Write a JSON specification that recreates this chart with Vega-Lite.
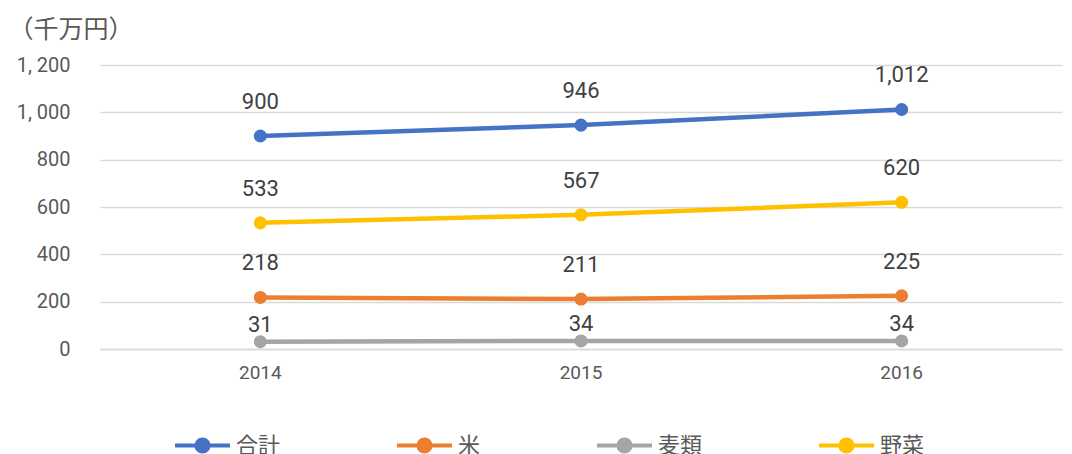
{
  "$schema": "https://vega.github.io/schema/vega-lite/v6.json",
  "width": 962,
  "height": 284,
  "autosize": "none",
  "padding": {"left": 100, "top": 65, "right": 10, "bottom": 105},
  "background": "white",
  "config": {"view": {"stroke": null}},
  "data": {
    "values": [
      {"year": "2014", "series": "合計", "value": 900},
      {"year": "2015", "series": "合計", "value": 946},
      {"year": "2016", "series": "合計", "value": 1012},
      {"year": "2014", "series": "米", "value": 218},
      {"year": "2015", "series": "米", "value": 211},
      {"year": "2016", "series": "米", "value": 225},
      {"year": "2014", "series": "麦類", "value": 31},
      {"year": "2015", "series": "麦類", "value": 34},
      {"year": "2016", "series": "麦類", "value": 34},
      {"year": "2014", "series": "野菜", "value": 533},
      {"year": "2015", "series": "野菜", "value": 567},
      {"year": "2016", "series": "野菜", "value": 620}
    ]
  },
  "encoding": {
    "x": {
      "field": "year", "type": "ordinal",
      "scale": {"type": "band", "paddingInner": 0, "paddingOuter": 0},
      "axis": {
        "title": null, "labelAngle": 0, "ticks": false, "domainColor": "#d9d9d9", "domainWidth": 1.5,
        "labelFont": "Roboto", "labelFontSize": 19, "labelColor": "#595959", "labelPadding": 14
      }
    },
    "y": {
      "field": "value", "type": "quantitative",
      "scale": {"domain": [0, 1200]},
      "axis": {
        "values": [0, 200, 400, 600, 800, 1000, 1200],
        "labelExpr": "replace(format(datum.value, ','), ',', ', ')",
        "domain": false, "ticks": false, "gridColor": "#d9d9d9", "gridWidth": 1.5,
        "labelFont": "Roboto", "labelFontSize": 20, "labelColor": "#595959", "labelPadding": 30,
        "title": "（千万円）", "titleAngle": 0, "titleAlign": "left", "titleBaseline": "middle",
        "titleX": -92, "titleY": -36, "titleFont": "Noto Sans CJK JP", "titleFontSize": 25,
        "titleFontWeight": "normal", "titleColor": "#595959"
      }
    },
    "color": {
      "field": "series", "type": "nominal",
      "sort": ["合計", "米", "麦類", "野菜"],
      "scale": {"domain": ["合計", "米", "麦類", "野菜"], "range": ["#4472C4", "#ED7D31", "#A5A5A5", "#FFC000"]},
      "legend": {
        "title": null, "orient": "none", "legendX": 73, "legendY": 351,
        "direction": "horizontal", "columns": 4, "gridAlign": "none", "columnPadding": 108,
        "symbolType": "M-1,0L1,0M-0.22,0A0.22,0.22 0 1,1 0.22,0A0.22,0.22 0 1,1 -0.22,0",
        "symbolSize": 3025, "symbolStrokeWidth": 4, "symbolOpacity": 1,
        "labelFont": "Noto Sans CJK JP", "labelFontSize": 22, "labelColor": "#595959", "labelOffset": 4,
        "encode": {"symbols": {"update": {"fill": {"scale": "color", "field": "value"}, "stroke": {"scale": "color", "field": "value"}}}}
      }
    }
  },
  "layer": [
    {"mark": {"type": "line", "strokeWidth": 4.5}},
    {"mark": {"type": "point", "filled": true, "size": 170, "opacity": 1}},
    {
      "transform": [{"filter": "datum.series !== '麦類'"}],
      "mark": {"type": "text", "dy": -34, "font": "Roboto", "fontSize": 22, "color": "#404040"},
      "encoding": {"text": {"field": "value", "type": "quantitative", "format": ","}, "color": {"value": "#404040"}}
    },
    {
      "transform": [{"filter": "datum.series === '麦類'"}],
      "mark": {"type": "text", "dy": -17, "font": "Roboto", "fontSize": 22, "color": "#404040"},
      "encoding": {"text": {"field": "value", "type": "quantitative", "format": ","}, "color": {"value": "#404040"}}
    }
  ]
}
